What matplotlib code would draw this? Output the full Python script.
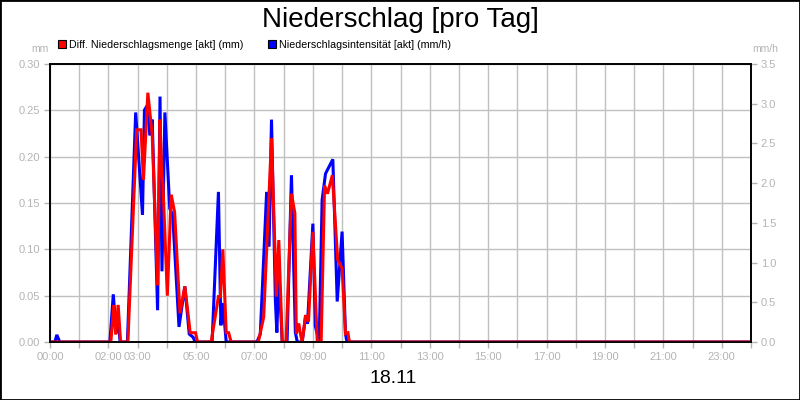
import matplotlib
matplotlib.use('Agg')
import matplotlib.pyplot as plt
from matplotlib.patches import Rectangle
from matplotlib.ticker import FixedLocator, FuncFormatter

plt.rcParams['font.family'] = ['Liberation Sans', 'DejaVu Sans']

title = "Niederschlag [pro Tag]"
date_label = "18.11"
red_label = "Diff. Niederschlagsmenge [akt] (mm)"
blue_label = "Niederschlagsintensität [akt] (mm/h)"
left_unit = "mm"
right_unit = "mm/h"

# Diff. Niederschlagsmenge (mm), left axis
red_times = ["00:00", "02:00", "02:05", "02:11", "02:15", "02:20", "02:25", "02:40",
             "02:58", "03:07", "03:12", "03:21", "03:30", "03:41", "03:46", "03:49",
             "03:52", "04:01", "04:09", "04:16", "04:27", "04:37", "04:48", "04:59",
             "05:03", "05:31", "05:46", "05:50", "05:55", "06:02", "06:07", "06:12",
             "07:08", "07:19", "07:35", "07:45", "07:50", "07:57", "08:05", "08:16",
             "08:23", "08:26", "08:31", "08:34", "08:38", "08:45", "08:51", "09:00",
             "09:09", "09:17", "09:24", "09:30", "09:40", "09:51", "10:00", "10:07",
             "10:12", "10:15", "24:00"]
red_values = [0, 0, 0, 0.04, 0.008, 0.04, 0, 0,
              0.229, 0.229, 0.175, 0.269, 0.223, 0.061, 0.24, 0.188,
              0.17, 0.05, 0.159, 0.14, 0.031, 0.06, 0.01, 0.01,
              0, 0, 0.049, 0.049, 0.10, 0.01, 0.01, 0,
              0, 0.027, 0.22, 0.049, 0.11, 0, 0, 0.16,
              0.139, 0.009, 0.02, 0.01, 0, 0.029, 0.022, 0.119,
              0, 0, 0.169, 0.16, 0.18, 0.0885, 0.0795, 0.009,
              0.01, 0, 0]

# Niederschlagsintensität (mm/h), right axis
blue_times = ["00:00", "00:10", "00:14", "00:20", "02:03", "02:10", "02:16", "02:20",
              "02:24", "02:39", "02:56", "03:10", "03:14", "03:21", "03:25", "03:30",
              "03:41", "03:46", "03:50", "03:56", "04:06", "04:12", "04:25", "04:37",
              "04:46", "04:54", "04:58", "05:33", "05:46", "05:51", "05:55", "06:02",
              "07:05", "07:12", "07:25", "07:30", "07:35", "07:43", "07:46", "07:50",
              "07:57", "08:07", "08:16", "08:24", "08:28", "08:38", "08:45", "08:49",
              "09:00", "09:05", "09:13", "09:19", "09:26", "09:41", "09:50", "10:00",
              "10:07", "10:10", "24:00"]
blue_values = [0, 0, 0.09, 0, 0, 0.60, 0.11, 0.30,
               0, 0, 2.89, 1.60, 2.92, 2.99, 2.60, 2.80,
               0.40, 3.09, 0.89, 2.89, 1.68, 1.60, 0.19, 0.70,
               0.10, 0.06, 0, 0, 1.89, 0.21, 0.49, 0,
               0, 0.10, 1.89, 1.20, 2.80, 0.52, 0.12, 0.89,
               0, 0, 2.10, 0.12, 0, 0, 0.32, 0.23,
               1.49, 0.20, 0, 1.79, 2.12, 2.30, 0.51, 1.39,
               0.10, 0, 0]

x_tick_labels = ["00:00", "02:00", "03:00", "05:00", "07:00", "09:00", "11:00",
                 "13:00", "15:00", "17:00", "19:00", "21:00", "23:00"]
left_ticks = [0.00, 0.05, 0.10, 0.15, 0.20, 0.25, 0.30]
right_ticks = [0.0, 0.5, 1.0, 1.5, 2.0, 2.5, 3.0, 3.5]


def to_hours(s):
    h, m = s.split(":")
    return int(h) + int(m) / 60.0


red_x = [to_hours(t) for t in red_times]
blue_x = [to_hours(t) for t in blue_times]
label_pos = [to_hours(t) for t in x_tick_labels]

grey = '#b4b4b4'
fig = plt.figure(figsize=(8, 4), dpi=100)
ax = fig.add_axes([50 / 800, 1 - 342 / 400, 701 / 800, 278 / 400])
ax2 = ax.twinx()

ax.set_xlim(0, 24)
ax.set_ylim(left_ticks[0], left_ticks[-1])
ax2.set_ylim(right_ticks[0], right_ticks[-1])

# grid
ax.set_axisbelow(True)
ax.xaxis.set_major_locator(FixedLocator(range(0, 25)))
ax.yaxis.set_major_locator(FixedLocator(left_ticks))
ax.grid(True, color='#c0c0c0', linewidth=1.0)

ax.plot(blue_x, blue_values, color='#0000ff', linewidth=2.2, transform=ax2.transData,
        solid_joinstyle='miter', zorder=3)
ax.plot(red_x, red_values, color='#ff0000', linewidth=2.2, solid_joinstyle='miter', zorder=4)

ax.set_xlim(0, 24)
ax.set_ylim(left_ticks[0], left_ticks[-1])
ax2.set_ylim(right_ticks[0], right_ticks[-1])

ax.xaxis.set_major_formatter(FuncFormatter(
    lambda v, p: "%02d:00" % int(round(v)) if any(abs(v - q) < 1e-6 for q in label_pos) else ""))
ax.yaxis.set_major_formatter(FuncFormatter(lambda v, p: "%.2f" % v))
ax2.yaxis.set_major_locator(FixedLocator(right_ticks))
ax2.yaxis.set_major_formatter(FuncFormatter(lambda v, p: "%.1f" % v))

for a in (ax, ax2):
    a.tick_params(axis='both', colors=grey, labelcolor=grey, labelsize=8, length=4, width=1, pad=3)
    for s in a.spines.values():
        s.set_color('black')
        s.set_linewidth(1.2)

fig.text(400 / 800, 1 - 27 / 400, title, ha='center', va='baseline', fontsize=20, color='black')
fig.text(393 / 800, 1 - 383 / 400, date_label, ha='center', va='baseline', fontsize=14, color='black')
fig.text(40 / 800, 1 - 49 / 400, left_unit, ha='center', va='center', fontsize=7.5, color=grey)
fig.text(765 / 800, 1 - 49 / 400, right_unit, ha='center', va='center', fontsize=7.5, color=grey)

# legend
for x0, col, lab in ((58, '#ff0000', red_label), (268, '#0000ff', blue_label)):
    fig.patches.append(Rectangle((x0 / 800, 1 - 48 / 400), 8 / 800, 8 / 400,
                                 transform=fig.transFigure, facecolor=col,
                                 edgecolor='black', linewidth=0.8))
    fig.text((x0 + 11) / 800, 1 - 44.5 / 400, lab, ha='left', va='center', fontsize=7.7, color='black')

fig.patches.append(Rectangle((0, 0), 1, 1, transform=fig.transFigure, fill=False,
                             edgecolor='black', linewidth=2))

fig.savefig('out.png', dpi=100)
